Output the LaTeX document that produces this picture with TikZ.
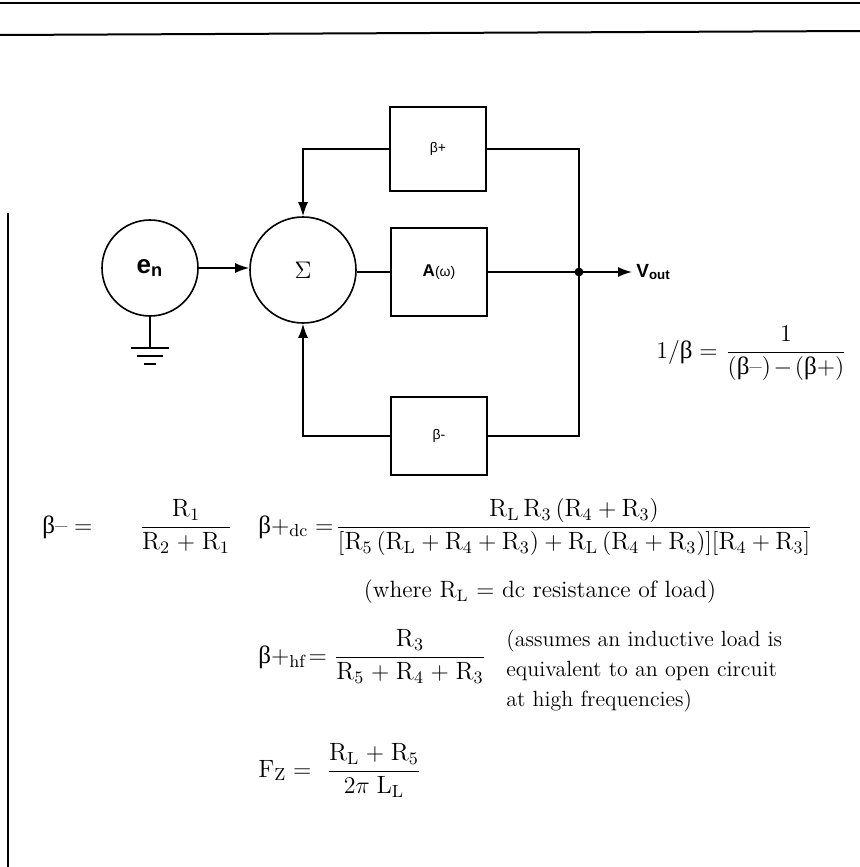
\documentclass[tikz,border=0pt]{standalone}
\usepackage{amsmath}
\usepackage{fontspec}
\usepackage{tikz}
\usetikzlibrary{arrows.meta,positioning}
\newfontfamily\lblfont{Liberation Sans}
\newfontfamily\grkfont{Liberation Serif}
\newcommand{\gbeta}{\mbox{\grkfont β}}
\newcommand{\Rr}[1]{\mathrm{R}_{\mathrm{#1}}}

\tikzset{
  wire/.style={line width=0.8pt},
  arr/.style={wire, -{Latex[length=7pt,width=5pt]}},
  blk/.style={draw, line width=1pt, minimum width=48pt, minimum height=42pt,
    inner sep=0pt, font=\lblfont\fontsize{7}{8}\selectfont},
  sumnode/.style={draw, circle, line width=0.8pt, inner sep=0pt},
  eqn/.style={inner sep=0pt, font=\fontsize{12.5}{15}\selectfont},
  lhs/.style={eqn, anchor=base west},
  frac/.style={eqn, anchor=base}
}

\begin{document}
\begin{tikzpicture}[x=0.5pt,y=-0.5pt]
  \useasboundingbox (0,0) rectangle (860,867);

  % page rules
  \draw[line width=1.4pt] (0,3) -- (860,3);
  \draw[line width=1pt] (0,35) -- (860,31);
  \draw[line width=0.8pt] (8,213) -- (8,867);

  % loop blocks
  \node[sumnode, minimum size=48pt, font=\lblfont\bfseries\fontsize{13}{15}\selectfont]
    (en) at (150,268) {e\textsubscript{n}};
  \node[sumnode, minimum size=53pt, font=\fontsize{12}{14}\selectfont]
    (sum) at (303,270) {$\Sigma$};
  \node[blk, minimum height=44pt] (amp) at (439,272)
    {{\bfseries\fontsize{8.5}{10}\selectfont A}(ω)};
  \node[blk] (bplus) at (438,149) {β+};
  \node[blk, minimum height=39pt] (bminus) at (439,436) {β-};

  \coordinate (junc) at (579,272);
  \coordinate (vend) at (632,272);
  \node[right=2pt of vend, inner sep=0pt, font=\lblfont\bfseries\fontsize{9.5}{11}\selectfont]
    (vout) {V\textsubscript{out}};

  % forward path
  \draw[arr] (en.east) -- (sum.west |- en.east);
  \draw[wire] (sum.east |- amp.west) -- (amp.west);
  \draw[wire] (amp.east) -- (junc);
  \draw[arr] (junc) -- (vend);
  \fill (junc) circle (2.2pt);

  % feedback paths
  \draw[arr] (bplus.west) -| (sum.north);
  \draw[wire] (bplus.east) -| (junc);
  \draw[arr] (bminus.west) -| (sum.south);
  \draw[wire] (bminus.east) -| (junc);

  % ground
  \coordinate (gnd) at (150,348);
  \draw[wire] (en.south) -- (gnd);
  \draw[wire] (gnd) ++(-19,0) -- ++(38,0);
  \draw[wire] (gnd) ++(-13,8) -- ++(26,0);
  \draw[wire] (gnd) ++(-6,16) -- ++(12,0);

  % equations
  \node[lhs] (invblhs) at (656,358) {$1/\gbeta =$};
  \node[frac] (invbfrac) at (786,358)
    {\medmuskip=2mu $\dfrac{1}{(\gbeta\text{--}) - (\gbeta+)}$};

  \node[lhs] (bmlhs) at (42,533) {$\gbeta\text{--} =$};
  \node[frac] (bmfrac) at (186,533) {\medmuskip=5mu $\dfrac{\Rr1}{\Rr2 + \Rr1}$};

  \node[lhs] (bdclhs) at (258,533) {$\gbeta+_{\mathrm{dc}} =$};
  \node[frac] (bdcfrac) at (574,533)
    {$\dfrac{\Rr{L}\,\Rr3\,(\Rr4 + \Rr3)}%
      {\medmuskip=3mu[\Rr5\,(\Rr{L} + \Rr4 + \Rr3) + \Rr{L}\,(\Rr4 + \Rr3)][\Rr4 + \Rr3]}$};
  \node[eqn, font=\fontsize{11.8}{14}\selectfont] (where) at (540,592)
    {(where $\Rr{L}$ = dc resistance of load)};

  \node[lhs] (bhflhs) at (258,663) {$\gbeta+_{\mathrm{hf}}\!=$};
  \node[frac] (bhffrac) at (410,663) {\medmuskip=5mu $\dfrac{\Rr3}{\Rr5 + \Rr4 + \Rr3}$};
  \node[eqn, anchor=north west, align=left, font=\fontsize{11}{15}\selectfont]
    (note) at (506,630)
    {(assumes an inductive load is\\ equivalent to an open circuit\\ at high frequencies)};

  \node[lhs] (fzlhs) at (258,777) {$\mathrm{F_Z} =$};
  \node[frac] (fzfrac) at (374,777) {\medmuskip=5mu $\dfrac{\Rr{L} + \Rr5}{2\pi\;\mathrm{L_L}}$};
\end{tikzpicture}
\end{document}
